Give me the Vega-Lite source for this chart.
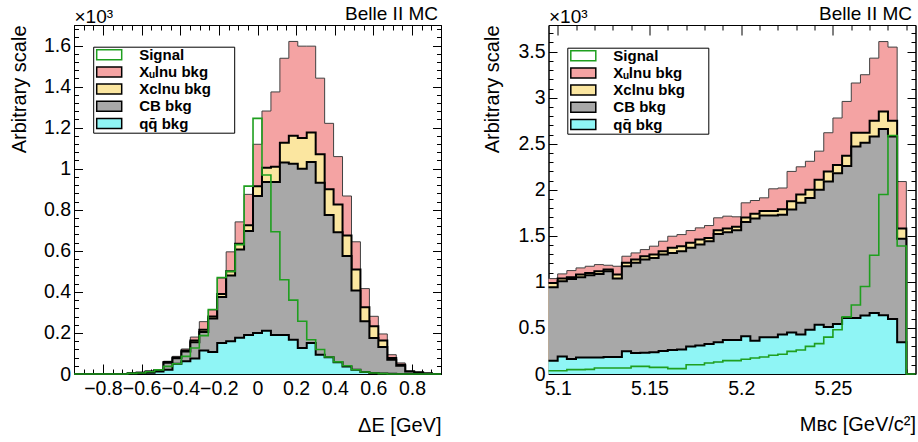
{
"$schema": "https://vega.github.io/schema/vega-lite/v6.json",
"background": "white",
"padding": {"left": 0, "top": 0, "right": 0, "bottom": 0},
"spacing": 107.5,
"bounds": "flush",
"config": {
  "font": "Liberation Sans",
  "view": {"stroke": "black", "strokeWidth": 1},
  "axis": {"grid": false, "domainColor": "black", "tickColor": "black", "labelColor": "black", "titleColor": "black", "labelFont": "Liberation Sans", "titleFont": "Liberation Sans", "labelFontSize": 19.5, "titleFontSize": 20, "titleFontWeight": "normal", "zindex": 1, "labelFlush": false, "labelOverlap": false, "tickWidth": 1, "domainWidth": 1}
},
"datasets": {
"dE": [
{"x":-0.95,"qq":0,"qq_cb":0,"qq_cb_xc":0,"all_bkg":0,"signal":0},
{"x":-0.9037,"qq":0,"qq_cb":0,"qq_cb_xc":0,"all_bkg":0,"signal":0},
{"x":-0.8573,"qq":0,"qq_cb":0,"qq_cb_xc":0,"all_bkg":0,"signal":0},
{"x":-0.811,"qq":0,"qq_cb":0,"qq_cb_xc":0,"all_bkg":0,"signal":0},
{"x":-0.7646,"qq":0,"qq_cb":0,"qq_cb_xc":0,"all_bkg":0,"signal":0},
{"x":-0.7183,"qq":0,"qq_cb":0,"qq_cb_xc":0,"all_bkg":0,"signal":0},
{"x":-0.672,"qq":0.001,"qq_cb":0.003,"qq_cb_xc":0.003,"all_bkg":0.003,"signal":0.003},
{"x":-0.6256,"qq":0.002,"qq_cb":0.006,"qq_cb_xc":0.006,"all_bkg":0.006,"signal":0.005},
{"x":-0.5793,"qq":0.006,"qq_cb":0.011,"qq_cb_xc":0.012,"all_bkg":0.013,"signal":0.011},
{"x":-0.5329,"qq":0.012,"qq_cb":0.019,"qq_cb_xc":0.02,"all_bkg":0.021,"signal":0.02},
{"x":-0.4866,"qq":0.021,"qq_cb":0.055,"qq_cb_xc":0.058,"all_bkg":0.062,"signal":0.037},
{"x":-0.4402,"qq":0.05,"qq_cb":0.077,"qq_cb_xc":0.08,"all_bkg":0.086,"signal":0.05},
{"x":-0.3939,"qq":0.062,"qq_cb":0.11,"qq_cb_xc":0.115,"all_bkg":0.122,"signal":0.086},
{"x":-0.3476,"qq":0.075,"qq_cb":0.155,"qq_cb_xc":0.163,"all_bkg":0.18,"signal":0.127},
{"x":-0.3012,"qq":0.114,"qq_cb":0.205,"qq_cb_xc":0.216,"all_bkg":0.255,"signal":0.187},
{"x":-0.2549,"qq":0.107,"qq_cb":0.27,"qq_cb_xc":0.28,"all_bkg":0.312,"signal":0.314},
{"x":-0.2085,"qq":0.151,"qq_cb":0.375,"qq_cb_xc":0.39,"all_bkg":0.467,"signal":0.47},
{"x":-0.1622,"qq":0.16,"qq_cb":0.48,"qq_cb_xc":0.5,"all_bkg":0.595,"signal":0.5},
{"x":-0.1159,"qq":0.176,"qq_cb":0.607,"qq_cb_xc":0.634,"all_bkg":0.741,"signal":0.63},
{"x":-0.0695,"qq":0.19,"qq_cb":0.696,"qq_cb_xc":0.724,"all_bkg":0.875,"signal":0.915},
{"x":-0.0232,"qq":0.2,"qq_cb":0.867,"qq_cb_xc":0.915,"all_bkg":1.119,"signal":1.245},
{"x":0.0232,"qq":0.211,"qq_cb":0.935,"qq_cb_xc":1.005,"all_bkg":1.281,"signal":0.969},
{"x":0.0695,"qq":0.19,"qq_cb":0.935,"qq_cb_xc":1.01,"all_bkg":1.374,"signal":0.693},
{"x":0.1159,"qq":0.19,"qq_cb":1.03,"qq_cb_xc":1.127,"all_bkg":1.538,"signal":0.459},
{"x":0.1622,"qq":0.167,"qq_cb":1.024,"qq_cb_xc":1.16,"all_bkg":1.62,"signal":0.36},
{"x":0.2085,"qq":0.127,"qq_cb":1.0,"qq_cb_xc":1.15,"all_bkg":1.597,"signal":0.257},
{"x":0.2549,"qq":0.151,"qq_cb":1.033,"qq_cb_xc":1.176,"all_bkg":1.597,"signal":0.167},
{"x":0.3012,"qq":0.094,"qq_cb":0.932,"qq_cb_xc":1.07,"all_bkg":1.441,"signal":0.119},
{"x":0.3476,"qq":0.081,"qq_cb":0.775,"qq_cb_xc":0.9,"all_bkg":1.221,"signal":0.083},
{"x":0.3939,"qq":0.057,"qq_cb":0.69,"qq_cb_xc":0.826,"all_bkg":1.059,"signal":0.059},
{"x":0.4402,"qq":0.037,"qq_cb":0.575,"qq_cb_xc":0.675,"all_bkg":0.867,"signal":0.04},
{"x":0.4866,"qq":0.021,"qq_cb":0.407,"qq_cb_xc":0.509,"all_bkg":0.644,"signal":0.021},
{"x":0.5329,"qq":0.01,"qq_cb":0.257,"qq_cb_xc":0.325,"all_bkg":0.416,"signal":0.01},
{"x":0.5793,"qq":0.005,"qq_cb":0.175,"qq_cb_xc":0.232,"all_bkg":0.281,"signal":0.005},
{"x":0.6256,"qq":0.003,"qq_cb":0.132,"qq_cb_xc":0.163,"all_bkg":0.195,"signal":0.002},
{"x":0.672,"qq":0.001,"qq_cb":0.07,"qq_cb_xc":0.078,"all_bkg":0.094,"signal":0},
{"x":0.7183,"qq":0,"qq_cb":0.04,"qq_cb_xc":0.045,"all_bkg":0.054,"signal":0},
{"x":0.7646,"qq":0,"qq_cb":0.012,"qq_cb_xc":0.012,"all_bkg":0.013,"signal":0},
{"x":0.811,"qq":0,"qq_cb":0.007,"qq_cb_xc":0.007,"all_bkg":0.008,"signal":0},
{"x":0.8573,"qq":0,"qq_cb":0.003,"qq_cb_xc":0.003,"all_bkg":0.003,"signal":0},
{"x":0.9037,"qq":0,"qq_cb":0,"qq_cb_xc":0,"all_bkg":0,"signal":0},
{"x":0.95,"qq":0,"qq_cb":0,"qq_cb_xc":0,"all_bkg":0,"signal":0}
],
"mbc": [
{"x":5.095,"qq":0.145,"qq_cb":0.942,"qq_cb_xc":0.989,"all_bkg":1.036,"signal":0.036},
{"x":5.1,"qq":0.19,"qq_cb":1.007,"qq_cb_xc":1.036,"all_bkg":1.087,"signal":0.036},
{"x":5.105,"qq":0.163,"qq_cb":1.033,"qq_cb_xc":1.051,"all_bkg":1.123,"signal":0.047},
{"x":5.11,"qq":0.18,"qq_cb":1.051,"qq_cb_xc":1.08,"all_bkg":1.152,"signal":0.047},
{"x":5.115,"qq":0.18,"qq_cb":1.072,"qq_cb_xc":1.098,"all_bkg":1.17,"signal":0.05},
{"x":5.12,"qq":0.18,"qq_cb":1.087,"qq_cb_xc":1.116,"all_bkg":1.188,"signal":0.065},
{"x":5.125,"qq":0.185,"qq_cb":1.116,"qq_cb_xc":1.134,"all_bkg":1.181,"signal":0.065},
{"x":5.13,"qq":0.185,"qq_cb":1.036,"qq_cb_xc":1.08,"all_bkg":1.17,"signal":0.065},
{"x":5.135,"qq":0.246,"qq_cb":1.17,"qq_cb_xc":1.207,"all_bkg":1.279,"signal":0.065},
{"x":5.14,"qq":0.228,"qq_cb":1.207,"qq_cb_xc":1.243,"all_bkg":1.315,"signal":0.083},
{"x":5.145,"qq":0.23,"qq_cb":1.243,"qq_cb_xc":1.279,"all_bkg":1.351,"signal":0.083},
{"x":5.15,"qq":0.235,"qq_cb":1.261,"qq_cb_xc":1.297,"all_bkg":1.388,"signal":0.072},
{"x":5.155,"qq":0.25,"qq_cb":1.297,"qq_cb_xc":1.333,"all_bkg":1.442,"signal":0.072},
{"x":5.16,"qq":0.26,"qq_cb":1.315,"qq_cb_xc":1.37,"all_bkg":1.496,"signal":0.058},
{"x":5.165,"qq":0.265,"qq_cb":1.333,"qq_cb_xc":1.388,"all_bkg":1.514,"signal":0.058},
{"x":5.17,"qq":0.3,"qq_cb":1.37,"qq_cb_xc":1.424,"all_bkg":1.558,"signal":0.1},
{"x":5.175,"qq":0.31,"qq_cb":1.406,"qq_cb_xc":1.46,"all_bkg":1.587,"signal":0.1},
{"x":5.18,"qq":0.325,"qq_cb":1.442,"qq_cb_xc":1.478,"all_bkg":1.612,"signal":0.12},
{"x":5.185,"qq":0.345,"qq_cb":1.52,"qq_cb_xc":1.56,"all_bkg":1.696,"signal":0.13},
{"x":5.19,"qq":0.37,"qq_cb":1.54,"qq_cb_xc":1.58,"all_bkg":1.714,"signal":0.145},
{"x":5.195,"qq":0.37,"qq_cb":1.56,"qq_cb_xc":1.6,"all_bkg":1.707,"signal":0.145},
{"x":5.2,"qq":0.41,"qq_cb":1.65,"qq_cb_xc":1.7,"all_bkg":1.859,"signal":0.16},
{"x":5.205,"qq":0.36,"qq_cb":1.69,"qq_cb_xc":1.74,"all_bkg":1.884,"signal":0.174},
{"x":5.21,"qq":0.4,"qq_cb":1.72,"qq_cb_xc":1.77,"all_bkg":1.913,"signal":0.185},
{"x":5.215,"qq":0.4,"qq_cb":1.72,"qq_cb_xc":1.77,"all_bkg":2.011,"signal":0.203},
{"x":5.22,"qq":0.43,"qq_cb":1.73,"qq_cb_xc":1.79,"all_bkg":2.02,"signal":0.215},
{"x":5.225,"qq":0.45,"qq_cb":1.786,"qq_cb_xc":1.877,"all_bkg":2.2,"signal":0.246},
{"x":5.23,"qq":0.43,"qq_cb":1.86,"qq_cb_xc":1.95,"all_bkg":2.25,"signal":0.26},
{"x":5.235,"qq":0.48,"qq_cb":1.91,"qq_cb_xc":2.0,"all_bkg":2.31,"signal":0.3},
{"x":5.24,"qq":0.536,"qq_cb":2.0,"qq_cb_xc":2.11,"all_bkg":2.42,"signal":0.33},
{"x":5.245,"qq":0.51,"qq_cb":2.09,"qq_cb_xc":2.2,"all_bkg":2.62,"signal":0.4},
{"x":5.25,"qq":0.543,"qq_cb":2.18,"qq_cb_xc":2.27,"all_bkg":2.78,"signal":0.48},
{"x":5.255,"qq":0.609,"qq_cb":2.26,"qq_cb_xc":2.37,"all_bkg":2.96,"signal":0.62},
{"x":5.26,"qq":0.609,"qq_cb":2.47,"qq_cb_xc":2.62,"all_bkg":3.16,"signal":0.75},
{"x":5.265,"qq":0.634,"qq_cb":2.51,"qq_cb_xc":2.62,"all_bkg":3.25,"signal":0.95},
{"x":5.27,"qq":0.663,"qq_cb":2.58,"qq_cb_xc":2.75,"all_bkg":3.43,"signal":1.29},
{"x":5.275,"qq":0.638,"qq_cb":2.66,"qq_cb_xc":2.85,"all_bkg":3.61,"signal":1.95},
{"x":5.28,"qq":0.598,"qq_cb":2.58,"qq_cb_xc":2.75,"all_bkg":3.55,"signal":2.59},
{"x":5.285,"qq":0.344,"qq_cb":1.47,"qq_cb_xc":1.58,"all_bkg":2.09,"signal":1.39},
{"x":5.29,"qq":0,"qq_cb":0,"qq_cb_xc":0,"all_bkg":0,"signal":0},
{"x":5.295,"qq":0,"qq_cb":0,"qq_cb_xc":0,"all_bkg":0,"signal":0}
]
},
"resolve": {"scale": {"x": "independent", "y": "independent", "fill": "independent", "opacity": "independent"}, "legend": {"fill": "independent", "opacity": "independent"}},
"hconcat": [
{
 "width": 367, "height": 349,
 "data": {"name": "dE"},
 "resolve": {"axis": {"x": "independent", "y": "independent"}},
 "layer": [
  {"mark": {"type": "area", "interpolate": "step-after"},
   "encoding": {
    "x": {"field": "x", "type": "quantitative", "scale": {"domain": [-0.95, 0.95], "nice": false, "zero": false},
      "axis": {"orient": "bottom", "values": [-0.8,-0.6,-0.4,-0.2,0,0.2,0.4,0.6,0.8], "format": "~g", "tickSize": -10, "labelPadding": 15.5, "title": "ΔE [GeV]", "titleX": 367, "titleY": 57, "titleAlign": "right", "titleAngle": 0, "titleBaseline": "alphabetic"}},
    "y": {"field": "all_bkg", "type": "quantitative", "stack": null, "scale": {"domain": [0, 1.7], "nice": false, "zero": false},
      "axis": {"orient": "left", "values": [0,0.2,0.4,0.6,0.8,1,1.2,1.4,1.6], "format": "~g", "tickSize": -8.5, "labelPadding": 12, "title": "Arbitrary scale", "titleX": -48.5, "titleY": 0, "titleAlign": "right", "titleAngle": 270, "titleBaseline": "alphabetic"}},
    "fill": {"datum": "Xᵤlnu bkg", "type": "nominal",
      "scale": {"domain": ["Signal", "Xᵤlnu bkg", "Xclnu bkg", "CB bkg", "qq̄ bkg"], "range": ["white", "#f4a3a3", "#fbe6a0", "#a8a8a8", "#8ff5f5"]},
      "legend": {"orient": "none", "legendX": 19.2, "legendY": 21.7, "zindex": 2, "title": null, "strokeColor": "black", "fillColor": "white", "padding": 0.5,
        "symbolType": "M-2.5,-1H2.5V1H-2.5Z", "symbolSize": 100, "symbolStrokeWidth": 1.5, "symbolOpacity": 1, "symbolOffset": 8,
        "labelFont": "Liberation Sans", "labelFontSize": 15, "labelFontWeight": "bold", "labelColor": "black", "labelOffset": 22.5, "rowPadding": 0.2,
        "labelExpr": "datum.label + '\u2800\u2800'",
        "encode": {"symbols": {"update": {"stroke": {"signal": "datum.value === 'Signal' ? '#1f9f1f' : 'black'"}}}}}},
    "opacity": {"datum": "Xᵤlnu bkg", "type": "nominal",
      "scale": {"domain": ["Signal", "Xᵤlnu bkg", "Xclnu bkg", "CB bkg", "qq̄ bkg"], "range": [1, 1, 1, 1, 1]},
      "legend": {"orient": "none", "legendX": 22.2, "legendY": 24.7, "zindex": 1, "title": null, "strokeColor": "black", "fillColor": "black", "padding": 0.5,
        "symbolType": "M-2.5,-1H2.5V1H-2.5Z", "symbolSize": 100, "symbolStrokeWidth": 1.5, "symbolOffset": 8, "symbolFillColor": "black", "symbolStrokeColor": "black",
        "labelFont": "Liberation Sans", "labelFontSize": 15, "labelFontWeight": "bold", "labelColor": "black", "labelOffset": 22.5, "rowPadding": 0.2,
        "labelExpr": "datum.label + '\u2800\u2800'"}}
   }},
  {"mark": {"type": "line", "interpolate": "step-after", "color": "#404040", "strokeWidth": 1},
   "encoding": {"x": {"field": "x", "type": "quantitative", "axis": null}, "y": {"field": "all_bkg", "type": "quantitative", "axis": null}}},
  {"mark": {"type": "area", "interpolate": "step-after"},
   "encoding": {
    "x": {"field": "x", "type": "quantitative",
      "axis": {"orient": "top", "values": [-0.8,-0.6,-0.4,-0.2,0,0.2,0.4,0.6,0.8], "tickSize": -10, "labels": false, "title": "Belle II MC", "titleX": 363.5, "titleY": -5.5, "titleAlign": "right", "titleAngle": 0, "titleBaseline": "alphabetic", "titleFontSize": 19}},
    "y": {"field": "qq_cb_xc", "type": "quantitative", "stack": null,
      "axis": {"orient": "right", "values": [0,0.2,0.4,0.6,0.8,1,1.2,1.4,1.6], "tickSize": -8.5, "labels": false, "title": "\u00a0", "titleX": -440.5, "titleY": -24, "titleAlign": "left", "titleAngle": 0, "titleBaseline": "top", "titleFontSize": 8}},
    "fill": {"datum": "Xclnu bkg", "type": "nominal"},
    "opacity": {"datum": "Xclnu bkg", "type": "nominal"}
   }},
  {"mark": {"type": "line", "interpolate": "step-after", "color": "black", "strokeWidth": 2},
   "encoding": {"x": {"field": "x", "type": "quantitative", "axis": null}, "y": {"field": "qq_cb_xc", "type": "quantitative", "axis": null}}},
  {"mark": {"type": "area", "interpolate": "step-after"},
   "encoding": {
    "x": {"field": "x", "type": "quantitative",
      "axis": {"orient": "bottom", "values": [-0.9,-0.85,-0.75,-0.7,-0.65,-0.55,-0.5,-0.45,-0.35,-0.3,-0.25,-0.15,-0.1,-0.05,0.05,0.1,0.15,0.25,0.3,0.35,0.45,0.5,0.55,0.65,0.7,0.75,0.85,0.9], "tickSize": -5, "labels": false, "domain": false, "title": null}},
    "y": {"field": "qq_cb", "type": "quantitative", "stack": null,
      "axis": {"orient": "left", "values": [0.04,0.08,0.12,0.16,0.24,0.28,0.32,0.36,0.44,0.48,0.52,0.56,0.64,0.68,0.72,0.76,0.84,0.88,0.92,0.96,1.04,1.08,1.12,1.16,1.24,1.28,1.32,1.36,1.44,1.48,1.52,1.56,1.64,1.68], "tickSize": -4.5, "labels": false, "domain": false, "title": "×10³", "titleX": 0, "titleY": -2.5, "titleAlign": "left", "titleAngle": 0, "titleBaseline": "alphabetic", "titleFontSize": 19}},
    "fill": {"datum": "CB bkg", "type": "nominal"},
    "opacity": {"datum": "CB bkg", "type": "nominal"}
   }},
  {"mark": {"type": "line", "interpolate": "step-after", "color": "black", "strokeWidth": 2},
   "encoding": {"x": {"field": "x", "type": "quantitative", "axis": null}, "y": {"field": "qq_cb", "type": "quantitative", "axis": null}}},
  {"mark": {"type": "area", "interpolate": "step-after"},
   "encoding": {
    "x": {"field": "x", "type": "quantitative",
      "axis": {"orient": "top", "values": [-0.9,-0.85,-0.75,-0.7,-0.65,-0.55,-0.5,-0.45,-0.35,-0.3,-0.25,-0.15,-0.1,-0.05,0.05,0.1,0.15,0.25,0.3,0.35,0.45,0.5,0.55,0.65,0.7,0.75,0.85,0.9], "tickSize": -5, "labels": false, "domain": false, "title": null}},
    "y": {"field": "qq", "type": "quantitative", "stack": null,
      "axis": {"orient": "right", "values": [0.04,0.08,0.12,0.16,0.24,0.28,0.32,0.36,0.44,0.48,0.52,0.56,0.64,0.68,0.72,0.76,0.84,0.88,0.92,0.96,1.04,1.08,1.12,1.16,1.24,1.28,1.32,1.36,1.44,1.48,1.52,1.56,1.64,1.68], "tickSize": -4.5, "labels": false, "domain": false, "title": null}},
    "fill": {"datum": "qq̄ bkg", "type": "nominal"},
    "opacity": {"datum": "qq̄ bkg", "type": "nominal"}
   }},
  {"mark": {"type": "line", "interpolate": "step-after", "color": "black", "strokeWidth": 2},
   "encoding": {"x": {"field": "x", "type": "quantitative", "axis": null}, "y": {"field": "qq", "type": "quantitative", "axis": null}}},
  {"mark": {"type": "line", "interpolate": "step-after", "color": "#1f9f1f", "strokeWidth": 1.6},
   "encoding": {"x": {"field": "x", "type": "quantitative", "axis": null}, "y": {"field": "signal", "type": "quantitative", "axis": null}}}
 ]
},
{
 "width": 367, "height": 349,
 "data": {"name": "mbc"},
 "resolve": {"axis": {"x": "independent", "y": "independent"}},
 "layer": [
  {"mark": {"type": "area", "interpolate": "step-after"},
   "encoding": {
    "x": {"field": "x", "type": "quantitative", "scale": {"domain": [5.095, 5.295], "nice": false, "zero": false},
      "axis": {"orient": "bottom", "values": [5.1,5.15,5.2,5.25], "format": "~g", "tickSize": -10, "labelPadding": 15.5, "title": "Mʙᴄ [GeV/c²]", "titleX": 367, "titleY": 56, "titleAlign": "right", "titleAngle": 0, "titleBaseline": "alphabetic"}},
    "y": {"field": "all_bkg", "type": "quantitative", "stack": null, "scale": {"domain": [0, 3.79], "nice": false, "zero": false},
      "axis": {"orient": "left", "values": [0,0.5,1,1.5,2,2.5,3,3.5], "format": "~g", "tickSize": -8.5, "labelPadding": 12, "title": "Arbitrary scale", "titleX": -50, "titleY": 0, "titleAlign": "right", "titleAngle": 270, "titleBaseline": "alphabetic"}},
    "fill": {"datum": "Xᵤlnu bkg", "type": "nominal",
      "scale": {"domain": ["Signal", "Xᵤlnu bkg", "Xclnu bkg", "CB bkg", "qq̄ bkg"], "range": ["white", "#f4a3a3", "#fbe6a0", "#a8a8a8", "#8ff5f5"]},
      "legend": {"orient": "none", "legendX": 18.8, "legendY": 22.7, "zindex": 2, "title": null, "strokeColor": "black", "fillColor": "white", "padding": 0.5,
        "symbolType": "M-2.5,-1H2.5V1H-2.5Z", "symbolSize": 100, "symbolStrokeWidth": 1.5, "symbolOpacity": 1, "symbolOffset": 8,
        "labelFont": "Liberation Sans", "labelFontSize": 15, "labelFontWeight": "bold", "labelColor": "black", "labelOffset": 22.5, "rowPadding": 0.2,
        "labelExpr": "datum.label + '\u2800\u2800'",
        "encode": {"symbols": {"update": {"stroke": {"signal": "datum.value === 'Signal' ? '#1f9f1f' : 'black'"}}}}}},
    "opacity": {"datum": "Xᵤlnu bkg", "type": "nominal",
      "scale": {"domain": ["Signal", "Xᵤlnu bkg", "Xclnu bkg", "CB bkg", "qq̄ bkg"], "range": [1, 1, 1, 1, 1]},
      "legend": {"orient": "none", "legendX": 21.8, "legendY": 25.7, "zindex": 1, "title": null, "strokeColor": "black", "fillColor": "black", "padding": 0.5,
        "symbolType": "M-2.5,-1H2.5V1H-2.5Z", "symbolSize": 100, "symbolStrokeWidth": 1.5, "symbolOffset": 8, "symbolFillColor": "black", "symbolStrokeColor": "black",
        "labelFont": "Liberation Sans", "labelFontSize": 15, "labelFontWeight": "bold", "labelColor": "black", "labelOffset": 22.5, "rowPadding": 0.2,
        "labelExpr": "datum.label + '\u2800\u2800'"}}
   }},
  {"mark": {"type": "line", "interpolate": "step-after", "color": "#404040", "strokeWidth": 1},
   "encoding": {"x": {"field": "x", "type": "quantitative", "axis": null}, "y": {"field": "all_bkg", "type": "quantitative", "axis": null}}},
  {"mark": {"type": "area", "interpolate": "step-after"},
   "encoding": {
    "x": {"field": "x", "type": "quantitative",
      "axis": {"orient": "top", "values": [5.1,5.15,5.2,5.25], "tickSize": -10, "labels": false, "title": "Belle II MC", "titleX": 363, "titleY": -5.5, "titleAlign": "right", "titleAngle": 0, "titleBaseline": "alphabetic", "titleFontSize": 19}},
    "y": {"field": "qq_cb_xc", "type": "quantitative", "stack": null,
      "axis": {"orient": "right", "values": [0,0.5,1,1.5,2,2.5,3,3.5], "tickSize": -8.5, "labels": false, "title": null}},
    "fill": {"datum": "Xclnu bkg", "type": "nominal"},
    "opacity": {"datum": "Xclnu bkg", "type": "nominal"}
   }},
  {"mark": {"type": "line", "interpolate": "step-after", "color": "black", "strokeWidth": 2},
   "encoding": {"x": {"field": "x", "type": "quantitative", "axis": null}, "y": {"field": "qq_cb_xc", "type": "quantitative", "axis": null}}},
  {"mark": {"type": "area", "interpolate": "step-after"},
   "encoding": {
    "x": {"field": "x", "type": "quantitative",
      "axis": {"orient": "bottom", "values": [5.11,5.12,5.13,5.14,5.16,5.17,5.18,5.19,5.21,5.22,5.23,5.24,5.26,5.27,5.28,5.29], "tickSize": -5, "labels": false, "domain": false, "title": null}},
    "y": {"field": "qq_cb", "type": "quantitative", "stack": null,
      "axis": {"orient": "left", "values": [0.1,0.2,0.3,0.4,0.6,0.7,0.8,0.9,1.1,1.2,1.3,1.4,1.6,1.7,1.8,1.9,2.1,2.2,2.3,2.4,2.6,2.7,2.8,2.9,3.1,3.2,3.3,3.4,3.6,3.7], "tickSize": -4.5, "labels": false, "domain": false, "title": "×10³", "titleX": 0, "titleY": -2.5, "titleAlign": "left", "titleAngle": 0, "titleBaseline": "alphabetic", "titleFontSize": 19}},
    "fill": {"datum": "CB bkg", "type": "nominal"},
    "opacity": {"datum": "CB bkg", "type": "nominal"}
   }},
  {"mark": {"type": "line", "interpolate": "step-after", "color": "black", "strokeWidth": 2},
   "encoding": {"x": {"field": "x", "type": "quantitative", "axis": null}, "y": {"field": "qq_cb", "type": "quantitative", "axis": null}}},
  {"mark": {"type": "area", "interpolate": "step-after"},
   "encoding": {
    "x": {"field": "x", "type": "quantitative",
      "axis": {"orient": "top", "values": [5.11,5.12,5.13,5.14,5.16,5.17,5.18,5.19,5.21,5.22,5.23,5.24,5.26,5.27,5.28,5.29], "tickSize": -5, "labels": false, "domain": false, "title": null}},
    "y": {"field": "qq", "type": "quantitative", "stack": null,
      "axis": {"orient": "right", "values": [0.1,0.2,0.3,0.4,0.6,0.7,0.8,0.9,1.1,1.2,1.3,1.4,1.6,1.7,1.8,1.9,2.1,2.2,2.3,2.4,2.6,2.7,2.8,2.9,3.1,3.2,3.3,3.4,3.6,3.7], "tickSize": -4.5, "labels": false, "domain": false, "title": null}},
    "fill": {"datum": "qq̄ bkg", "type": "nominal"},
    "opacity": {"datum": "qq̄ bkg", "type": "nominal"}
   }},
  {"mark": {"type": "line", "interpolate": "step-after", "color": "black", "strokeWidth": 2},
   "encoding": {"x": {"field": "x", "type": "quantitative", "axis": null}, "y": {"field": "qq", "type": "quantitative", "axis": null}}},
  {"mark": {"type": "line", "interpolate": "step-after", "color": "#1f9f1f", "strokeWidth": 1.6},
   "encoding": {"x": {"field": "x", "type": "quantitative", "axis": null}, "y": {"field": "signal", "type": "quantitative", "axis": null}}}
 ]
}
]
}
